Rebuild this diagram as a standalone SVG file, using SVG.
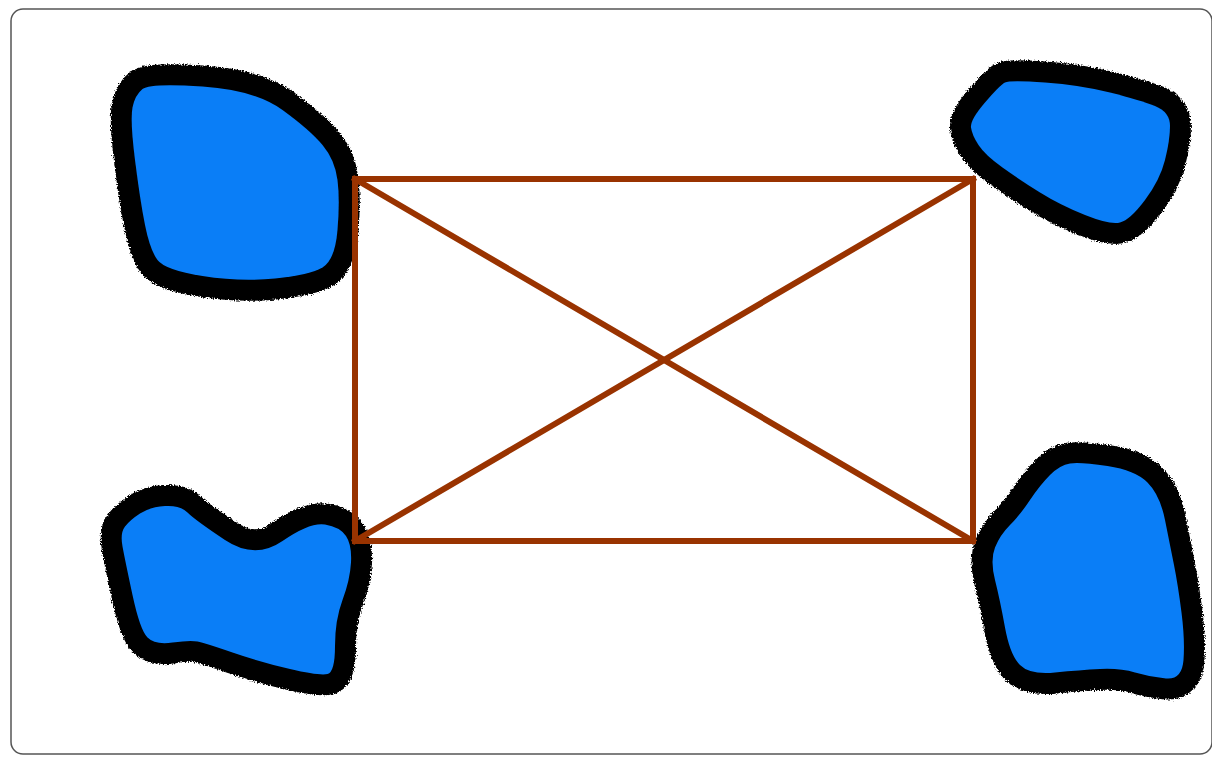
<svg xmlns="http://www.w3.org/2000/svg" xmlns:xlink="http://www.w3.org/1999/xlink" width="1212" height="757" viewBox="0 0 1212 757">
<style>
.frame{fill:#fff;stroke:#555;stroke-width:1.5}
.ring{fill:#000;stroke:#000;stroke-width:42;stroke-linejoin:round;filter:url(#rough)}
.pond{fill:#0a7ef7;stroke:none}
.edge{stroke:#993300;stroke-width:6;fill:none;stroke-linecap:square}
</style>
<defs>
<filter id="rough" filterUnits="userSpaceOnUse" x="0" y="0" width="1212" height="757">
<feTurbulence type="fractalNoise" baseFrequency="0.7" numOctaves="2" seed="3" result="n"/>
<feDisplacementMap in="SourceGraphic" in2="n" scale="5" xChannelSelector="R" yChannelSelector="G"/>
</filter>
<path id="p1" d="M142.5,89 Q150,83 202.5,86.5 Q255,90 282.5,110 Q310,130 322.5,145 Q335,160 337.5,180 Q340,200 337.5,230 Q335,260 322.5,267.5 Q310,275 275,278.5 Q240,282 202.5,276 Q165,270 157.5,260 Q150,250 145,225 Q140,200 135,160 Q130,120 132.5,107.5 Q135,95 142.5,89 Z"/>
<path id="p2" d="M140,513.5 Q150,507 165,506 Q180,505 187.5,512.5 Q195,520 225,540 Q255,560 282.5,541 Q310,522 325,524.5 Q340,527 346,536 Q352,545 351,562.5 Q350,580 342.5,600 Q335,620 335,646 Q335,672 327.5,674 Q320,676 290,669 Q260,662 232.5,652.5 Q205,643 197.5,641.5 Q190,640 172.5,642.5 Q155,645 147.5,637.5 Q140,630 132.5,595 Q125,560 122.5,546.5 Q120,533 125,526.5 Q130,520 140,513.5 Z"/>
<path id="p3" d="M971,127.5 Q970,120 985,102.5 Q1000,85 1005,82.5 Q1010,80 1045,82.5 Q1080,85 1110,92.5 Q1140,100 1155,106 Q1170,112 1170,126 Q1170,140 1165,160 Q1160,180 1145,200 Q1130,220 1120,222.5 Q1110,225 1085,215 Q1060,205 1040,192.5 Q1020,180 1002.5,167.5 Q985,155 978.5,145 Q972,135 971,127.5 Z"/>
<path id="p4" d="M1050,475 Q1060,465 1070,463.5 Q1080,462 1107.5,466 Q1135,470 1147.5,482.5 Q1160,495 1165,520 Q1170,545 1174,565 Q1178,585 1181.5,612.5 Q1185,640 1183.5,660 Q1182,680 1166,678.5 Q1150,677 1135,672.5 Q1120,668 1100,669 Q1080,670 1055,672.5 Q1030,675 1020,665 Q1010,655 1005,627.5 Q1000,600 995,580 Q990,560 995,547.5 Q1000,535 1010,525 Q1020,515 1030,500 Q1040,485 1050,475 Z"/>
</defs>
<rect x="0" y="0" width="1212" height="757" fill="#fff"/>
<rect class="frame" x="11" y="9" width="1201" height="745" rx="12" ry="12"/>
<g id="pond-top-left"><use xlink:href="#p1" class="ring"/><use xlink:href="#p1" class="pond"/></g>
<g id="pond-bottom-left"><use xlink:href="#p2" class="ring"/><use xlink:href="#p2" class="pond"/></g>
<g id="pond-top-right"><use xlink:href="#p3" class="ring"/><use xlink:href="#p3" class="pond"/></g>
<g id="pond-bottom-right"><use xlink:href="#p4" class="ring"/><use xlink:href="#p4" class="pond"/></g>
<g id="connectors">
<rect class="edge" x="355" y="179" width="618" height="362"/>
<line class="edge" x1="355" y1="179" x2="973" y2="541"/>
<line class="edge" x1="973" y1="179" x2="355" y2="541"/>
</g>
</svg>
